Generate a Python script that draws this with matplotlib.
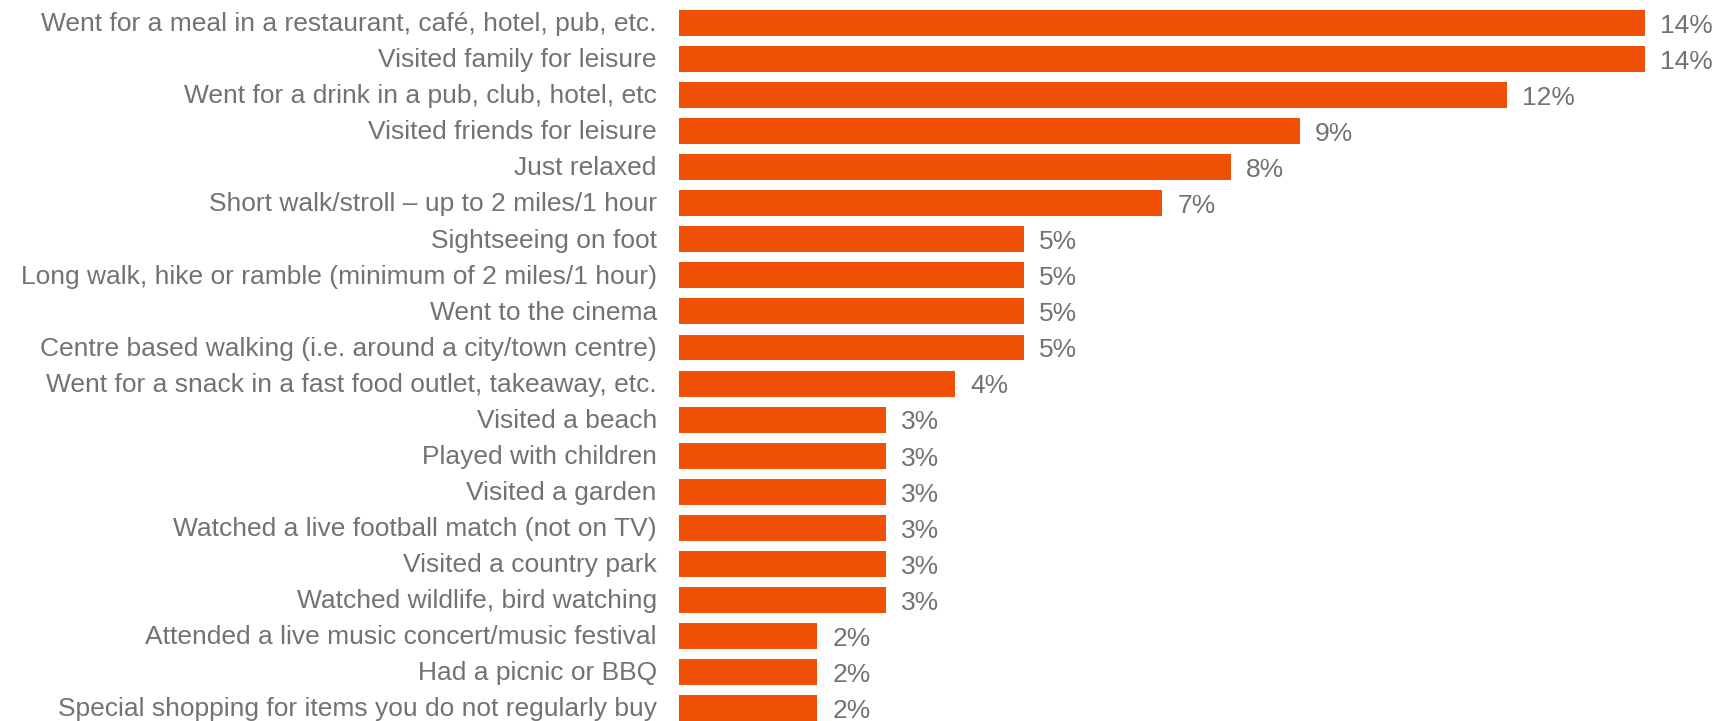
import matplotlib.pyplot as plt
from matplotlib.transforms import ScaledTranslation

activities = [
    "Went for a meal in a restaurant, café, hotel, pub, etc.",
    "Visited family for leisure",
    "Went for a drink in a pub, club, hotel, etc",
    "Visited friends for leisure",
    "Just relaxed",
    "Short walk/stroll \u2013 up to 2 miles/1 hour",
    "Sightseeing on foot",
    "Long walk, hike or ramble (minimum of 2 miles/1 hour)",
    "Went to the cinema",
    "Centre based walking (i.e. around a city/town centre)",
    "Went for a snack in a fast food outlet, takeaway, etc.",
    "Visited a beach",
    "Played with children",
    "Visited a garden",
    "Watched a live football match (not on TV)",
    "Visited a country park",
    "Watched wildlife, bird watching",
    "Attended a live music concert/music festival",
    "Had a picnic or BBQ",
    "Special shopping for items you do not regularly buy",
]
shares = [14, 14, 12, 9, 8, 7, 5, 5, 5, 5, 4, 3, 3, 3, 3, 3, 3, 2, 2, 2]

BAR = "#F05006"
TEXT = "#767171"

plt.rcParams["font.family"] = ["Liberation Sans", "DejaVu Sans"]

fig = plt.figure(figsize=(17.14, 7.21), dpi=100)
ax = fig.add_axes([679 / 1714, 0, 1 - 679 / 1714, 1])

ypos = list(range(len(activities)))
ax.barh(ypos, shares, height=0.72, color=BAR)

for y, v in zip(ypos, shares):
    ax.text(v + 0.22, y + 0.08, f"{v}%", va="center", ha="left",
            fontsize=19, color=TEXT)

ax.set_xlim(0, 15)
ax.set_ylim(19.36, -0.638)
ax.set_yticks(ypos)
ax.set_yticklabels(activities, fontsize=19, color=TEXT, va="center")
ax.tick_params(axis="y", length=0, pad=16)
# nudge labels down a touch to sit like the original
shift = ScaledTranslation(0, -0.012, fig.dpi_scale_trans)
for lbl in ax.get_yticklabels():
    lbl.set_transform(lbl.get_transform() + shift)
ax.set_xticks([])
for s in ax.spines.values():
    s.set_visible(False)

fig.savefig("out.png", dpi=100)
